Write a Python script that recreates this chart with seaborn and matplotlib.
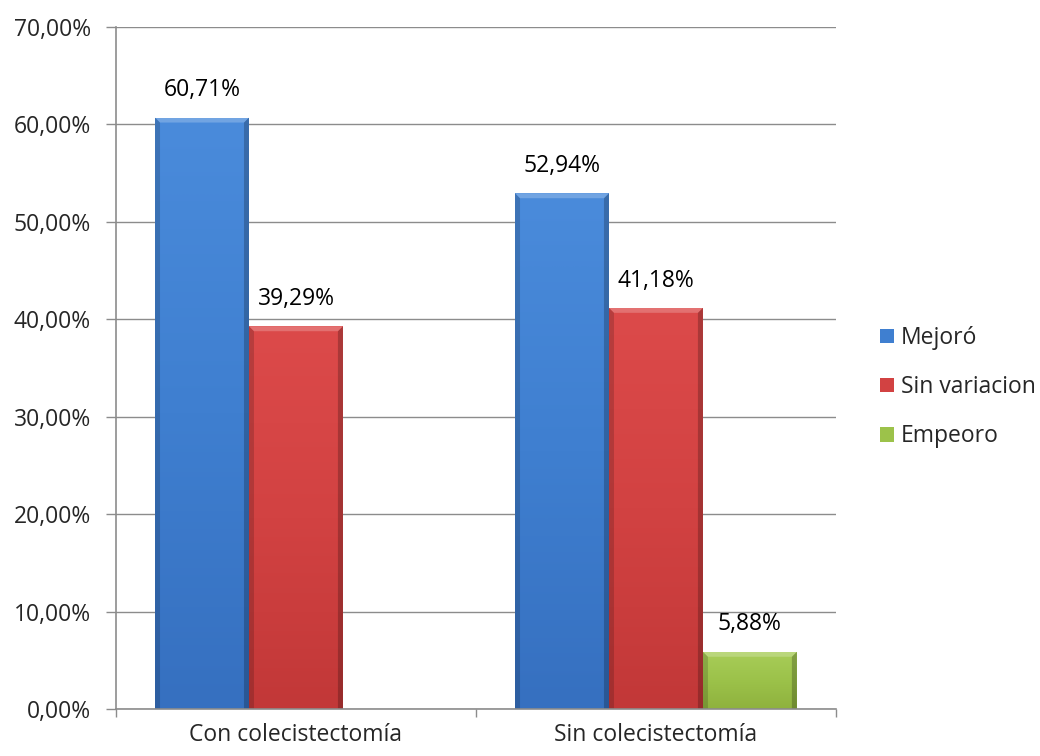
import numpy as np
import pandas as pd
import matplotlib
matplotlib.use("Agg")
import matplotlib.pyplot as plt
import seaborn as sns
from matplotlib.colors import LinearSegmentedColormap

# Data
groups = ["Con colecistectomía", "Sin colecistectomía"]
series = ["Mejoró", "Sin variacion", "Empeoro"]
con_values = [60.71, 39.29, None]
sin_values = [52.94, 41.18, 5.88]
y_ticks = [0, 10, 20, 30, 40, 50, 60, 70]

colors = {"Mejoró": "#3f7fd0", "Sin variacion": "#d24242", "Empeoro": "#9cc24a"}
tops = {"Mejoró": "#4a8bdb", "Sin variacion": "#dc4a4a", "Empeoro": "#a8cd58"}
bottoms = {"Mejoró": "#3670c0", "Sin variacion": "#c23838", "Empeoro": "#8fb23e"}

rows = []
for g, vals in zip(groups, [con_values, sin_values]):
    for s, v in zip(series, vals):
        if v is not None:
            rows.append({"grupo": g, "serie": s, "valor": v})
df = pd.DataFrame(rows)

sns.set_theme(style="white")
plt.rcParams["font.family"] = ["Open Sans", "DejaVu Sans"]

fig = plt.figure(figsize=(10.4, 7.56), dpi=100)
ax = fig.add_axes([0.1115, 0.0621, 0.6923, 0.9022])

sns.barplot(data=df, x="grupo", y="valor", hue="serie", order=groups,
            hue_order=series, palette=colors, width=0.783, ax=ax,
            saturation=1, errorbar=None, linewidth=0, legend=True)

ax.set_xlim(-0.5, 1.5)
ax.set_ylim(0, 70)

# bevel size in data units (about 5 px)
bx = 5 / (0.6923 * 1040) * 2.0
by = 5 / (0.9022 * 756) * 70.0

for container, s in zip(ax.containers, series):
    cmap = LinearSegmentedColormap.from_list(s, [bottoms[s], colors[s], tops[s]])
    for patch in container:
        h = patch.get_height()
        if not np.isfinite(h) or h <= 0:
            continue
        x0, y0 = patch.get_x(), patch.get_y()
        w = patch.get_width()
        z = patch.get_zorder()
        grad = np.tile(np.linspace(0, 1, 64)[:, None], (1, 2))
        im = ax.imshow(grad, extent=[x0, x0 + w, y0, y0 + h], cmap=cmap,
                       aspect="auto", origin="lower", zorder=z + 0.1,
                       interpolation="bicubic")
        im.set_clip_path(patch)
        # side bevels (darker) and top bevel (lighter)
        ax.fill([x0, x0 + bx, x0 + bx, x0], [y0, y0, y0 + h - by, y0 + h],
                color="black", alpha=0.16, linewidth=0, zorder=z + 0.2)
        ax.fill([x0 + w, x0 + w - bx, x0 + w - bx, x0 + w],
                [y0, y0, y0 + h - by, y0 + h],
                color="black", alpha=0.22, linewidth=0, zorder=z + 0.2)
        ax.fill([x0, x0 + w, x0 + w - bx, x0 + bx],
                [y0 + h, y0 + h, y0 + h - by, y0 + h - by],
                color="white", alpha=0.22, linewidth=0, zorder=z + 0.2)
    labels = [f"{v:.2f}%".replace(".", ",") if np.isfinite(v) and v > 0 else ""
              for v in container.datavalues]
    ax.bar_label(container, labels=labels, padding=11, fontsize=16.5, color="#000000")

ax.set_yticks(y_ticks)
ax.set_yticklabels([f"{t:.2f}%".replace(".", ",") for t in y_ticks], fontsize=16.5)
ax.set_xticks([0, 1])
ax.set_xticklabels(groups, fontsize=16.5)
ax.set_xlabel("")
ax.set_ylabel("")

ax.yaxis.grid(True, color="#8c8c8c", linewidth=1)
ax.set_axisbelow(True)
for side in ["top", "right"]:
    ax.spines[side].set_visible(False)
for side in ["left", "bottom"]:
    ax.spines[side].set_color("#8c8c8c")
    ax.spines[side].set_linewidth(1.2)

ax.tick_params(axis="y", which="major", length=7, color="#8c8c8c", width=1,
               left=True, pad=11)
ax.tick_params(axis="x", which="major", length=0, pad=10)
# category separators on the x axis
ax.set_xticks([-0.5, 0.5, 1.5], minor=True)
ax.tick_params(axis="x", which="minor", length=6, color="#8c8c8c", width=1,
               bottom=True, direction="out")

handles, labs = ax.get_legend_handles_labels()
ax.legend(handles, labs, loc="center left", bbox_to_anchor=(1.033, 0.472),
          frameon=False, fontsize=16.5, handlelength=0.6, handleheight=0.6,
          handletextpad=0.3, labelspacing=1.1)

fig.savefig("out.png", dpi=100)
